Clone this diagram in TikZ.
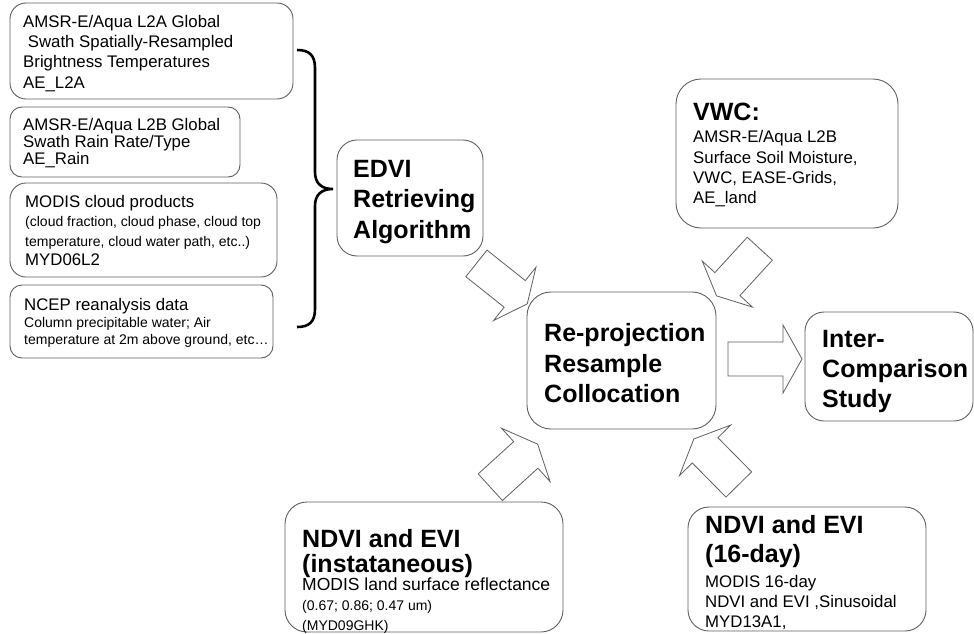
\documentclass[tikz,border=0pt]{standalone}
\usepackage{fontspec}
\setmainfont{Liberation Sans}
\definecolor{boxgray}{HTML}{606060}
\newcommand\nrmf[1]{\fontsize{16.8pt}{#1pt}\selectfont\lineskiplimit=-100pt\relax}
\newcommand\smf{\fontsize{14pt}{17pt}\selectfont}
\newcommand\bldf[1]{\fontsize{25pt}{#1pt}\selectfont\bfseries\lineskiplimit=-100pt\relax}
\newcommand\bldc{\fontsize{25pt}{30pt}\selectfont\bfseries}
\newcommand\blockarr[6]{%
  \draw[arrline, shift={(#1)}, rotate=#2]
    (0,-#5) -- (#3-#4,-#5) -- (#3-#4,-#6) -- (#3,0) -- (#3-#4,#6) -- (#3-#4,#5) -- (0,#5) -- cycle;}
\begin{document}
\begin{tikzpicture}[x=1pt,y=-1pt,
  box/.style={draw=boxgray, line width=0.9pt, fill=white, inner sep=0pt},
  txt/.style={anchor=north west, inner sep=0pt, align=left},
  arrline/.style={draw=boxgray, line width=0.8pt, fill=white, line join=miter},
  brace/.style={draw=black, line width=2.6pt}]
\useasboundingbox (0,0) rectangle (974,634);

% ---------- boxes ----------
\node[box, rounded corners=16pt, minimum width=283pt, minimum height=96pt] (l2a) at (151.5,51) {};
\node[box, rounded corners=12pt, minimum width=230pt, minimum height=70pt] (rain) at (125,142) {};
\node[box, rounded corners=16pt, minimum width=267pt, minimum height=94pt] (modis) at (143.5,230) {};
\node[box, rounded corners=12pt, minimum width=263pt, minimum height=73pt] (ncep) at (141.5,321.5) {};
\node[box, rounded corners=20pt, minimum width=146pt, minimum height=116pt] (edvi) at (410,198) {};
\node[box, rounded corners=24pt, minimum width=189pt, minimum height=137pt] (reproj) at (621.5,360.5) {};
\node[box, rounded corners=19pt, minimum width=168pt, minimum height=109pt] (inter) at (889,366.5) {};
\node[box, rounded corners=25pt, minimum width=222pt, minimum height=149pt] (vwc) at (787,153.5) {};
\node[box, rounded corners=22pt, minimum width=278pt, minimum height=130pt] (ndvii) at (424,567) {};
\node[box, rounded corners=21pt, minimum width=238pt, minimum height=124pt] (ndvis) at (807,569) {};

% ---------- texts ----------
\node[txt, font=\nrmf{20.3}] (l2at) at (23,15)
  {AMSR-E/Aqua L2A Global\\ \ Swath Spatially-Resampled\\Brightness Temperatures\\AE\_L2A};
\node[txt, font=\nrmf{17}] (raint) at (23,118)
  {AMSR-E/Aqua L2B Global\\Swath Rain Rate/Type\\AE\_Rain};
\node[txt, font=\nrmf{19.5}] (modist) at (25,195)
  {MODIS cloud products\\{\smf(cloud fraction, cloud phase, cloud top}\\{\smf temperature, cloud water path, etc..)}\\MYD06L2};
\node[txt, font=\nrmf{17}] (ncept) at (24,298)
  {NCEP reanalysis data\\{\smf Column precipitable water; Air}\\{\smf temperature at 2m above ground, etc…}};
\node[txt, font=\bldf{30.5}] (edvit) at (353,160)
  {EDVI\\Retrieving\\Algorithm};
\node[txt, font=\bldf{30.2}] (reprojt) at (544,323.5)
  {Re-projection\\Resample\\Collocation};
\node[txt, font=\bldf{30}] (intert) at (822,330)
  {Inter-\\Comparison\\Study};
\node[txt, font=\nrmf{20.3}] (vwct) at (693,102.5)
  {{\bldc VWC:}\\[2.4pt]AMSR-E/Aqua L2B\\Surface Soil Moisture,\\VWC, EASE-Grids,\\AE\_land};
\node[txt, font=\nrmf{20}] (ndviit) at (302,529)
  {{\bldc NDVI and EVI}\\[5pt]{\bldc (instataneous)}\\[-2pt]{\fontsize{17.5pt}{20pt}\selectfont MODIS land surface reflectance}\\[0.5pt]{\smf(0.67; 0.86; 0.47 um)}\\{\smf(MYD09GHK)}};
\node[txt, font=\nrmf{20}] (ndvist) at (705,515.5)
  {{\bldc NDVI and EVI}\\[9pt]{\bldc (16-day)}\\[5pt]MODIS 16-day\\NDVI and EVI ,Sinusoidal\\[-0.7pt]MYD13A1,};

% ---------- brace ----------
\coordinate (bTop) at (297,50);
\coordinate (bTip) at (333,189);
\coordinate (bBot) at (297,327);
\draw[brace] (bTop) .. controls (309,50) and (315,55) .. (315,68) -- (315,172)
  .. controls (315,183) and (321,189) .. (bTip)
  .. controls (321,189) and (315,195) .. (315,206) -- (315,309)
  .. controls (315,322) and (309,327) .. (bBot);

% ---------- block arrows ----------
\coordinate (a1) at (476.4,263.4);
\coordinate (a2) at (759.8,248.7);
\coordinate (a3) at (490.3,487.2);
\coordinate (a4) at (738.8,484.5);
\coordinate (a5) at (728,359);
\blockarr{a1}{-38.5}{65}{16}{17}{34}
\blockarr{a2}{-132.5}{64}{16}{17}{34}
\blockarr{a3}{42.3}{64}{16}{18}{36}
\blockarr{a4}{134.6}{64}{16}{18}{36}
\blockarr{a5}{0}{74}{19}{17}{34}
\end{tikzpicture}
\end{document}
